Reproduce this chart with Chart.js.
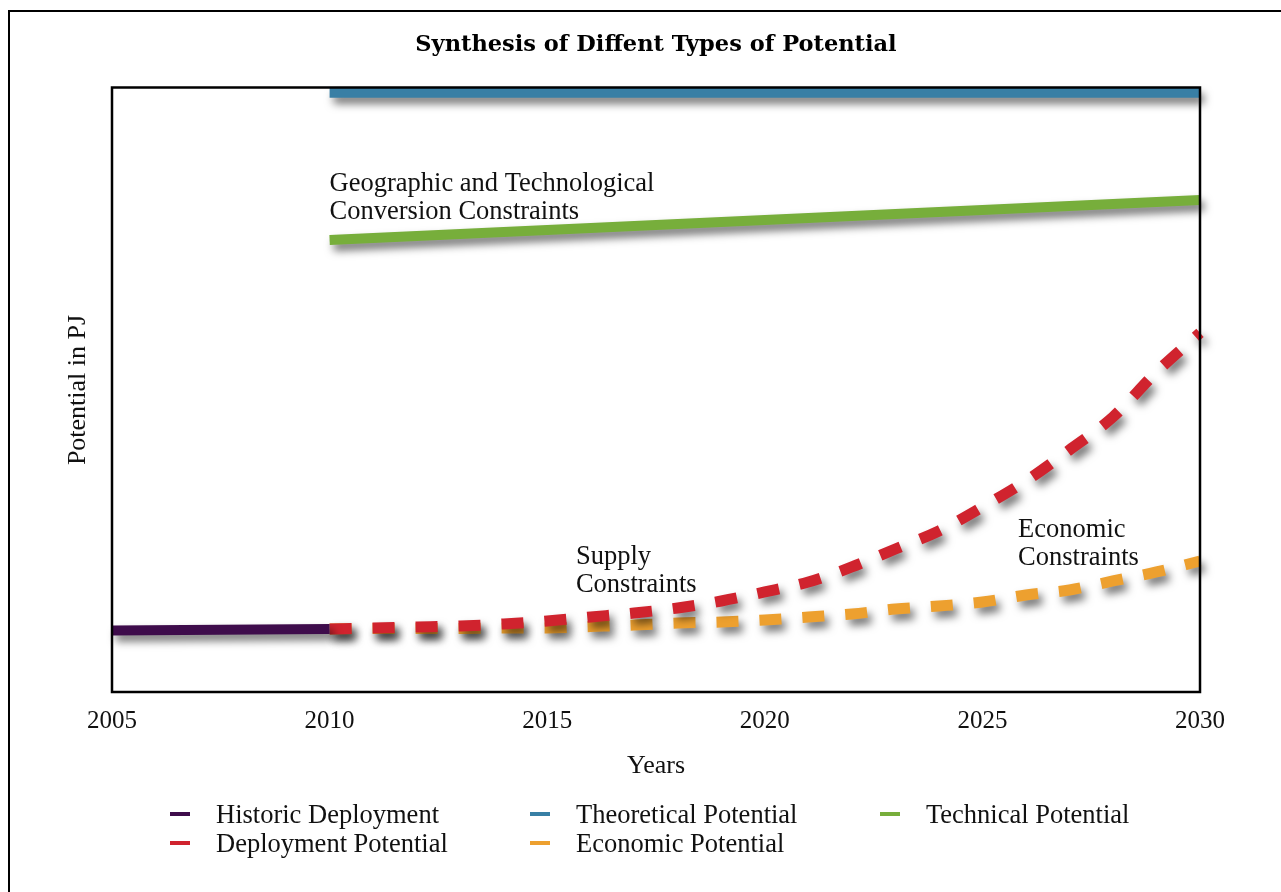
<!DOCTYPE html>
<html>
<head>
<meta charset="utf-8">
<script src="https://cdn.jsdelivr.net/npm/chart.js@4.4.1/dist/chart.umd.min.js"></script>
<style>
  html, body { margin: 0; padding: 0; background: #fff; overflow: hidden; }
  #wrap { position: relative; width: 1281px; height: 892px; }
  #frame { position: absolute; left: 8px; top: 10px; width: 1400px; height: 1000px; border: 2.5px solid #000; box-sizing: border-box; }
  #chart-box { position: absolute; left: 0; top: 0; width: 1281px; height: 892px; }
  #legend { position: absolute; left: 0; top: 0; width: 1281px; height: 892px; pointer-events: none;
            font-family: "Liberation Serif", serif; font-size: 26.5px; color: #111; }
  .item { position: absolute; white-space: nowrap; }
  .item .mark { position: absolute; left: 0; top: -2px; width: 20px; height: 4px; }
  .item span { position: absolute; left: 46px; top: -16px; line-height: 32px; }
</style>
</head>
<body>
<div id="wrap">
  <div id="frame"></div>
  <div id="chart-box"><canvas id="potential-chart"></canvas></div>
  <div id="legend"></div>
</div>
<script>
// values (arbitrary PJ units, 0 at the bottom of the plot, 100 at the top)
const xTicks = [2005, 2010, 2015, 2020, 2025, 2030];

const historicYears = [2005, 2010];
const historicValues = [10.18, 10.43];

const theoreticalYears = [2010, 2030];
const theoreticalValues = [99.2, 99.2];

const technicalYears = [2010, 2030];
const technicalValues = [74.83, 81.46];

const potentialYears = [2010, 2011, 2012, 2013, 2014, 2015, 2016, 2017, 2018, 2019, 2020,
                        2021, 2022, 2023, 2024, 2025, 2026, 2027, 2028, 2029, 2030];
const deploymentValues = [10.43, 10.60, 10.76, 10.93, 11.26, 11.75, 12.42, 13.08, 13.91, 15.07, 16.56,
                          18.21, 20.70, 23.68, 26.66, 30.63, 34.93, 40.07, 45.53, 52.98, 59.44];
const economicValues = [10.43, 10.51, 10.51, 10.51, 10.60, 10.60, 10.84, 11.09, 11.42, 11.59, 11.92,
                        12.42, 12.91, 13.74, 14.24, 14.90, 16.06, 16.89, 18.38, 19.87, 21.69];

const notes = [
  { x: 2010, y: 84.1, lines: ['Geographic and Technological', 'Conversion Constraints'] },
  { x: 2015.66, y: 22.35, lines: ['Supply', 'Constraints'] },
  { x: 2025.82, y: 26.85, lines: ['Economic', 'Constraints'] }
];

function toPoints(xs, ys) {
  return xs.map(function (x, i) { return { x: x, y: ys[i] }; });
}

const serif = "'Liberation Serif', 'Times New Roman', serif";

// soft drop shadow under every line
const shadowPlugin = {
  id: 'shadow',
  beforeDatasetDraw: function (chart) {
    const ctx = chart.ctx;
    ctx.save();
    ctx.shadowColor = 'rgba(0, 0, 0, 0.55)';
    ctx.shadowBlur = 8;
    ctx.shadowOffsetX = 4;
    ctx.shadowOffsetY = 6;
  },
  afterDatasetDraw: function (chart) {
    chart.ctx.restore();
  }
};

// frame round the plot and the text notes
const framePlugin = {
  id: 'frame',
  afterDatasetsDraw: function (chart) {
    const ctx = chart.ctx;
    const a = chart.chartArea;
    const xs = chart.scales.x, ys = chart.scales.y;
    ctx.save();
    ctx.font = '26.5px ' + serif;
    ctx.fillStyle = '#111';
    ctx.textAlign = 'left';
    ctx.textBaseline = 'middle';
    notes.forEach(function (n) {
      const px = xs.getPixelForValue(n.x);
      const py = ys.getPixelForValue(n.y);
      n.lines.forEach(function (t, i) { ctx.fillText(t, px, py + i * 28); });
    });
    ctx.strokeStyle = '#000';
    ctx.lineWidth = 2.5;
    ctx.strokeRect(a.left, a.top - 0.5, a.right - a.left, a.bottom - a.top + 0.5);
    ctx.restore();
  }
};

const lineBase = { borderCapStyle: 'butt', pointRadius: 0, pointHoverRadius: 0, fill: false, clip: false };

const chart = new Chart(document.getElementById('potential-chart').getContext('2d'), {
  type: 'line',
  data: {
    datasets: [
      Object.assign({ label: 'Historic Deployment', data: toPoints(historicYears, historicValues),
        borderColor: '#3e0c4b', borderWidth: 10 }, lineBase),
      Object.assign({ label: 'Theoretical Potential', data: toPoints(theoreticalYears, theoreticalValues),
        borderColor: '#387fa5', borderWidth: 10 }, lineBase),
      Object.assign({ label: 'Technical Potential', data: toPoints(technicalYears, technicalValues),
        borderColor: '#77ae3b', borderWidth: 10 }, lineBase),
      Object.assign({ label: 'Deployment Potential', data: toPoints(potentialYears, deploymentValues),
        borderColor: '#d0232e', borderWidth: 11, borderDash: [22, 21], cubicInterpolationMode: 'monotone' }, lineBase),
      Object.assign({ label: 'Economic Potential', data: toPoints(potentialYears, economicValues),
        borderColor: '#eda02f', borderWidth: 11, borderDash: [22, 21], cubicInterpolationMode: 'monotone' }, lineBase)
    ]
  },
  options: {
    responsive: true,
    maintainAspectRatio: false,
    animation: false,
    events: [],
    layout: { padding: { left: 62.4, right: 81, top: 0, bottom: 110.4 } },
    plugins: {
      legend: { display: false },
      tooltip: { enabled: false },
      title: {
        display: true,
        fullSize: false,
        text: 'Synthesis of Diffent Types of Potential',
        color: '#000',
        font: { family: "'DejaVu Serif', serif", size: 22.5, weight: 'bold' },
        padding: { top: 31.5, bottom: 29.5 }
      }
    },
    scales: {
      x: {
        type: 'linear',
        min: 2005,
        max: 2030,
        afterBuildTicks: function (scale) {
          scale.ticks = xTicks.map(function (v) { return { value: v }; });
        },
        grid: { display: false, drawTicks: false },
        border: { display: false },
        ticks: {
          padding: 14,
          color: '#111',
          font: { family: serif, size: 25 },
          callback: function (v) { return String(v); }
        },
        title: {
          display: true,
          text: 'Years',
          color: '#111',
          font: { family: serif, size: 26 },
          padding: { top: 0.4, bottom: 0 }
        }
      },
      y: {
        min: 0,
        max: 100,
        grid: { display: false, drawTicks: false },
        border: { display: false },
        ticks: { display: false },
        title: {
          display: true,
          text: 'Potential in PJ',
          color: '#111',
          font: { family: serif, size: 26 },
          padding: { top: 0, bottom: 18.4 }
        }
      }
    }
  },
  plugins: [shadowPlugin, framePlugin]
});

// legend in three columns, as in the original
function buildLegend(c) {
  const box = document.getElementById('legend');
  const cols = [170, 530, 880];
  const rows = [814, 843];
  c.data.datasets.forEach(function (ds, i) {
    const item = document.createElement('div');
    item.className = 'item';
    item.style.left = cols[i % 3] + 'px';
    item.style.top = rows[Math.floor(i / 3)] + 'px';
    item.innerHTML = '<div class="mark" style="background:' + ds.borderColor + '"></div><span>' + ds.label + '</span>';
    box.appendChild(item);
  });
}
buildLegend(chart);
</script>
</body>
</html>
